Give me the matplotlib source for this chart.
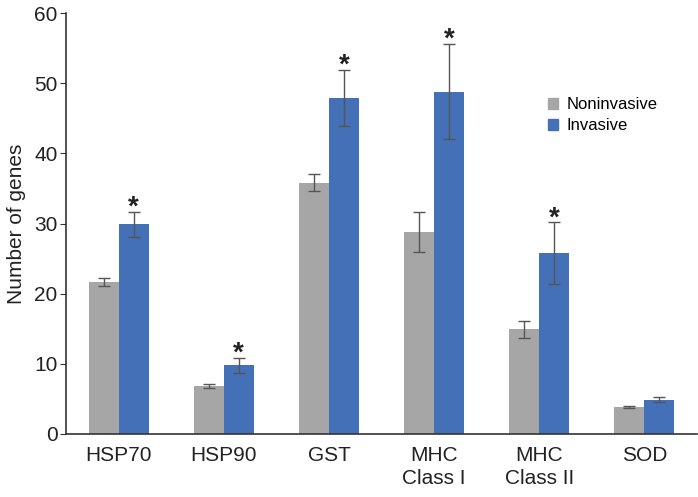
import numpy as np
import matplotlib
matplotlib.use("Agg")
import matplotlib.pyplot as plt
from matplotlib.patches import Patch

categories = ["HSP70", "HSP90", "GST", "MHC\nClass I", "MHC\nClass II", "SOD"]
noninvasive = [21.7, 6.8, 35.8, 28.8, 14.9, 3.85]
noninvasive_err = [0.6, 0.3, 1.2, 2.8, 1.2, 0.2]
invasive = [29.9, 9.8, 47.9, 48.8, 25.8, 4.9]
invasive_err = [1.8, 1.1, 4.0, 6.8, 4.4, 0.35]
significant = [True, True, True, True, True, False]

plt.rcParams["font.family"] = ["Liberation Sans", "DejaVu Sans"]

gray = "#a6a6a6"
blue = "#4470b8"
x = np.arange(len(categories))
w = 0.285

fig = plt.figure(figsize=(6.98, 4.97), dpi=100)
ax = fig.add_axes([0.0946, 0.1268, 0.904, 0.847])

ax.bar(x - w / 2, noninvasive, w, color=gray, yerr=noninvasive_err,
       error_kw=dict(ecolor="#555555", elinewidth=1, capsize=4, capthick=1))
ax.bar(x + w / 2, invasive, w, color=blue, yerr=invasive_err,
       error_kw=dict(ecolor="#555555", elinewidth=1, capsize=4, capthick=1))

for i in range(len(categories)):
    if significant[i]:
        ax.text(x[i] + w / 2, invasive[i] + invasive_err[i] - 1.3, "*",
                ha="center", va="bottom", fontsize=20, fontweight="bold",
                color="#222222")

ax.set_xlim(-0.5, 5.5)
ax.set_ylim(0, 60)
ax.set_yticks([0, 10, 20, 30, 40, 50, 60])
ax.set_xticks(x)
ax.set_xticklabels(categories, fontsize=15, color="#222222", linespacing=1.25)
ax.tick_params(axis="y", labelsize=15, labelcolor="#222222", length=4,
               color="#333333", pad=2)
ax.tick_params(axis="x", length=0, pad=9)
ax.set_ylabel("Number of genes", fontsize=15, color="#222222", labelpad=6)

for s in ["top", "right"]:
    ax.spines[s].set_visible(False)
for s in ["left", "bottom"]:
    ax.spines[s].set_color("#333333")
    ax.spines[s].set_linewidth(1.2)

handles = [Patch(color=gray, label="Noninvasive"), Patch(color=blue, label="Invasive")]
ax.legend(handles=handles, loc="upper left", bbox_to_anchor=(0.74, 0.835),
          frameon=False, fontsize=12, handlelength=0.6, handleheight=0.6,
          handletextpad=0.5, labelspacing=0.35)

fig.savefig("out.png", dpi=100)
